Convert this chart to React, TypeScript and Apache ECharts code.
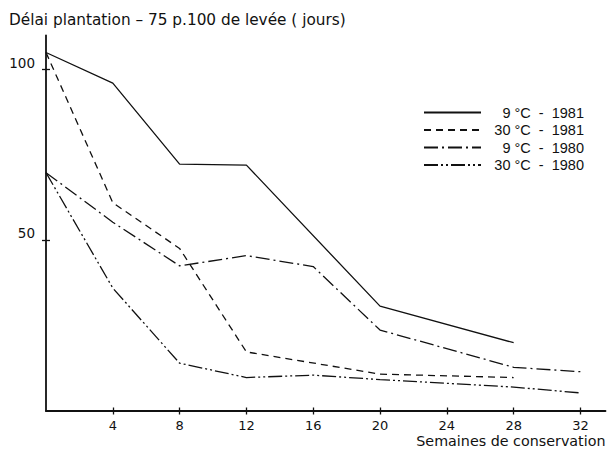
import React, { useEffect, useRef } from "react";
import * as echarts from "echarts";

// ---- data ----
const seriesNames = ["9 °C - 1981", "30 °C - 1981", "9 °C - 1980", "30 °C - 1980"];

const weeks9_1981 = [0, 4, 8, 12, 20, 28];
const delay9_1981 = [105, 96, 72.3, 72, 30.7, 20];

const weeks30_1981 = [0, 4, 8, 12, 20, 28];
const delay30_1981 = [105, 61, 47.6, 17.3, 10.8, 9.8];

const weeks9_1980 = [0, 4, 8, 12, 16, 20, 28, 32];
const delay9_1980 = [69.8, 55.3, 42.5, 45.5, 42.3, 23.7, 12.8, 11.5];

const weeks30_1980 = [0, 4, 8, 12, 16, 20, 28, 32];
const delay30_1980 = [69.8, 36, 14, 9.8, 10.5, 9.2, 7, 5.3];

const xTickValues = [4, 8, 12, 16, 20, 24, 28, 32];
const yTickValues = [50, 100];

const titleText = "Délai plantation – 75 p.100 de levée ( jours)";
const xAxisName = "Semaines de conservation";

const INK = "#111111";
const ROUND_FONT = "DejaVu Sans";
const LEGEND_FONT = "Liberation Sans";

function pairs(xs: number[], ys: number[]) {
  return xs.map((x, i) => [x, ys[i]]);
}

export default function App() {
  const ref = useRef<HTMLDivElement>(null);

  useEffect(() => {
    if (!ref.current) return;
    const chart = echarts.init(ref.current, undefined, { renderer: "svg" });

    const dashTypes: any[] = ["solid", [7, 5], [14, 4, 2, 4], [14, 3, 2, 3, 2, 3]];
    const dataSets = [
      pairs(weeks9_1981, delay9_1981),
      pairs(weeks30_1981, delay30_1981),
      pairs(weeks9_1980, delay9_1980),
      pairs(weeks30_1980, delay30_1980),
    ];

    const xBase = {
      type: "value",
      min: 0,
      max: 33.5,
      splitLine: { show: false },
    };
    const yBase = {
      type: "value",
      min: 0,
      max: 110,
      splitLine: { show: false },
    };

    chart.setOption({
      animation: false,
      backgroundColor: "#ffffff",
      title: {
        text: titleText,
        left: 4,
        top: 7,
        textStyle: {
          fontFamily: ROUND_FONT,
          fontSize: 15.3,
          fontWeight: "normal",
          color: INK,
        },
      },
      legend: {
        orient: "vertical",
        left: 423,
        top: 105,
        padding: 0,
        itemWidth: 57,
        itemHeight: 14,
        itemGap: 2.5,
        data: seriesNames,
        itemStyle: { color: "rgba(0,0,0,0)", borderWidth: 0, opacity: 0 },
        formatter: (name: string) => `{a|${name.replace(" - ", "  -  ")}}`,
        textStyle: {
          color: INK,
          rich: {
            a: {
              width: 98,
              align: "right",
              fontFamily: LEGEND_FONT,
              fontSize: 14.5,
              lineHeight: 14,
              color: INK,
            },
          },
        },
        selectedMode: false,
      },
      grid: {
        left: 46,
        right: 4.5,
        top: 35.4,
        bottom: 40,
        containLabel: false,
        outerBoundsMode: "none",
      },
      xAxis: [
        {
          ...xBase,
          position: "bottom",
          name: xAxisName,
          nameLocation: "end",
          nameGap: 0,
          nameTextStyle: {
            fontFamily: ROUND_FONT,
            fontSize: 14.3,
            color: INK,
            align: "right",
            verticalAlign: "top",
            padding: [23, 0, 0, 0],
          },
          axisLine: { show: true, lineStyle: { color: INK, width: 1.8 } },
          axisTick: {
            show: true,
            inside: false,
            length: 3.5,
            customValues: xTickValues,
            lineStyle: { color: INK, width: 1.3 },
          },
          axisLabel: {
            show: true,
            customValues: xTickValues,
            margin: 8,
            fontFamily: ROUND_FONT,
            fontSize: 13,
            color: INK,
          },
        },
        {
          ...xBase,
          position: "bottom",
          offset: 0,
          axisLine: { show: false },
          axisLabel: { show: false },
          axisTick: {
            show: true,
            inside: true,
            length: 3.5,
            customValues: xTickValues,
            lineStyle: { color: INK, width: 1.3 },
          },
        },
      ],
      yAxis: [
        {
          ...yBase,
          position: "left",
          axisLine: { show: true, lineStyle: { color: INK, width: 1.8 } },
          axisTick: {
            show: true,
            inside: false,
            length: 4,
            customValues: yTickValues,
            lineStyle: { color: INK, width: 1.3 },
          },
          axisLabel: {
            show: true,
            customValues: yTickValues,
            margin: 11,
            verticalAlign: "bottom",
            fontFamily: ROUND_FONT,
            fontSize: 13.5,
            color: INK,
          },
        },
        {
          ...yBase,
          position: "left",
          offset: 0,
          axisLine: { show: false },
          axisLabel: { show: false },
          axisTick: {
            show: true,
            inside: true,
            length: 4,
            customValues: yTickValues,
            lineStyle: { color: INK, width: 1.3 },
          },
        },
      ],
      series: seriesNames.map((name, i) => ({
        name,
        type: "line",
        xAxisIndex: 0,
        yAxisIndex: 0,
        data: dataSets[i],
        symbol: "none",
        showSymbol: false,
        color: INK,
        lineStyle: { color: INK, width: 1.3, type: dashTypes[i] },
        emphasis: { disabled: true },
        silent: true,
      })),
    });

    return () => chart.dispose();
  }, []);

  return (
    <div
      ref={ref}
      style={{ position: "fixed", left: 0, top: 0, width: 610, height: 451 }}
    />
  );
}
